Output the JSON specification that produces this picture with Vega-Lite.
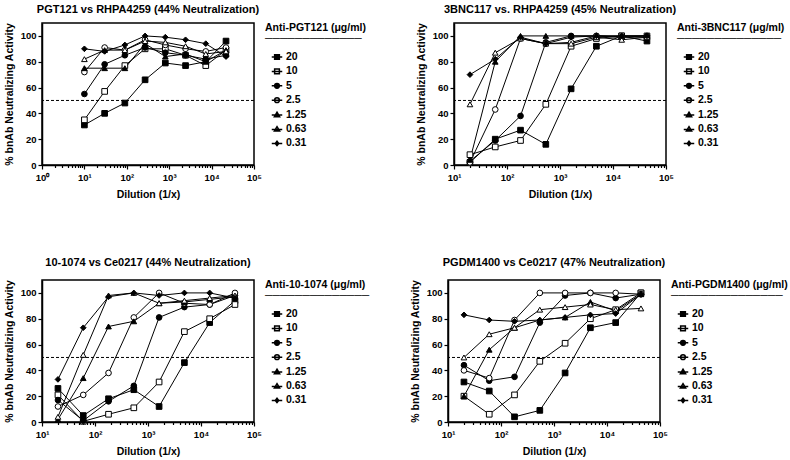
{
  "$schema": "https://vega.github.io/schema/vega-lite/v6.json",
  "padding": {"top": 2, "left": 3, "right": 2, "bottom": 1},
  "background": "white",
  "config": {
    "font": "Liberation Sans",
    "view": {"stroke": "black", "strokeWidth": 1.5},
    "axis": {"domainColor": "black", "domainWidth": 1.5, "tickColor": "black", "tickWidth": 1.2, "labelColor": "black", "labelFont": "Liberation Sans", "labelFontWeight": "bold", "labelFontSize": 9.5, "titleColor": "black", "titleFont": "Liberation Sans", "titleFontWeight": "bold", "titleFontSize": 10.5, "grid": false},
    "title": {"font": "Liberation Sans", "fontSize": 11, "fontWeight": "bold", "color": "black", "anchor": "middle", "frame": "group"},
    "legend": {"titleFont": "Liberation Sans", "titleFontSize": 10.5, "titleFontWeight": "bold", "titleColor": "black", "labelFont": "Liberation Sans", "labelFontSize": 10.5, "labelFontWeight": "bold", "labelColor": "black", "offset": 11, "padding": 0, "symbolSize": 110, "rowPadding": 2.4, "titlePadding": 6.5, "titleLineHeight": 11, "symbolOffset": 6, "labelOffset": 3, "orient": "right"}
  },
  "datasets": {
    "A": [
      {"conc":"20","dil":10,"pct":31},{"conc":"20","dil":30,"pct":40},{"conc":"20","dil":90,"pct":48},{"conc":"20","dil":270,"pct":66},{"conc":"20","dil":810,"pct":79},{"conc":"20","dil":2430,"pct":77},{"conc":"20","dil":7290,"pct":80},{"conc":"20","dil":21870,"pct":96},
      {"conc":"10","dil":10,"pct":35},{"conc":"10","dil":30,"pct":57},{"conc":"10","dil":90,"pct":77},{"conc":"10","dil":270,"pct":90},{"conc":"10","dil":810,"pct":90},{"conc":"10","dil":2430,"pct":85},{"conc":"10","dil":7290,"pct":77},{"conc":"10","dil":21870,"pct":89},
      {"conc":"5","dil":10,"pct":55},{"conc":"5","dil":30,"pct":78},{"conc":"5","dil":90,"pct":85},{"conc":"5","dil":270,"pct":91},{"conc":"5","dil":810,"pct":87},{"conc":"5","dil":2430,"pct":85},{"conc":"5","dil":7290,"pct":82},{"conc":"5","dil":21870,"pct":85},
      {"conc":"2.5","dil":10,"pct":72},{"conc":"2.5","dil":30,"pct":91},{"conc":"2.5","dil":90,"pct":89},{"conc":"2.5","dil":270,"pct":97},{"conc":"2.5","dil":810,"pct":93},{"conc":"2.5","dil":2430,"pct":90},{"conc":"2.5","dil":7290,"pct":88},{"conc":"2.5","dil":21870,"pct":91},
      {"conc":"1.25","dil":10,"pct":75},{"conc":"1.25","dil":30,"pct":75},{"conc":"1.25","dil":90,"pct":75},{"conc":"1.25","dil":270,"pct":94},{"conc":"1.25","dil":810,"pct":84},{"conc":"1.25","dil":2430,"pct":86},{"conc":"1.25","dil":7290,"pct":80},{"conc":"1.25","dil":21870,"pct":89},
      {"conc":"0.63","dil":10,"pct":82},{"conc":"0.63","dil":30,"pct":89},{"conc":"0.63","dil":90,"pct":89},{"conc":"0.63","dil":270,"pct":96},{"conc":"0.63","dil":810,"pct":95},{"conc":"0.63","dil":2430,"pct":92},{"conc":"0.63","dil":7290,"pct":86},{"conc":"0.63","dil":21870,"pct":88},
      {"conc":"0.31","dil":10,"pct":90},{"conc":"0.31","dil":30,"pct":88},{"conc":"0.31","dil":90,"pct":93},{"conc":"0.31","dil":270,"pct":100},{"conc":"0.31","dil":810,"pct":99},{"conc":"0.31","dil":2430,"pct":97},{"conc":"0.31","dil":7290,"pct":94},{"conc":"0.31","dil":21870,"pct":84}
    ],
    "B": [
      {"conc":"20","dil":20,"pct":2},{"conc":"20","dil":60,"pct":20},{"conc":"20","dil":180,"pct":27},{"conc":"20","dil":540,"pct":16},{"conc":"20","dil":1620,"pct":59},{"conc":"20","dil":4860,"pct":92},{"conc":"20","dil":14580,"pct":100},{"conc":"20","dil":43740,"pct":96},
      {"conc":"10","dil":20,"pct":8},{"conc":"10","dil":60,"pct":14},{"conc":"10","dil":180,"pct":19},{"conc":"10","dil":540,"pct":47},{"conc":"10","dil":1620,"pct":92},{"conc":"10","dil":4860,"pct":98},{"conc":"10","dil":14580,"pct":100},{"conc":"10","dil":43740,"pct":100},
      {"conc":"5","dil":20,"pct":3},{"conc":"5","dil":60,"pct":19},{"conc":"5","dil":180,"pct":38},{"conc":"5","dil":540,"pct":95},{"conc":"5","dil":1620,"pct":100},{"conc":"5","dil":4860,"pct":100},{"conc":"5","dil":14580,"pct":99},{"conc":"5","dil":43740,"pct":99},
      {"conc":"2.5","dil":20,"pct":2},{"conc":"2.5","dil":60,"pct":43},{"conc":"2.5","dil":180,"pct":98},{"conc":"2.5","dil":540,"pct":94},{"conc":"2.5","dil":1620,"pct":95},{"conc":"2.5","dil":4860,"pct":100},{"conc":"2.5","dil":14580,"pct":99},{"conc":"2.5","dil":43740,"pct":100},
      {"conc":"1.25","dil":20,"pct":4},{"conc":"1.25","dil":60,"pct":80},{"conc":"1.25","dil":180,"pct":100},{"conc":"1.25","dil":540,"pct":100},{"conc":"1.25","dil":1620,"pct":100},{"conc":"1.25","dil":4860,"pct":100},{"conc":"1.25","dil":14580,"pct":100},{"conc":"1.25","dil":43740,"pct":100},
      {"conc":"0.63","dil":20,"pct":47},{"conc":"0.63","dil":60,"pct":87},{"conc":"0.63","dil":180,"pct":98},{"conc":"0.63","dil":540,"pct":94},{"conc":"0.63","dil":1620,"pct":94},{"conc":"0.63","dil":4860,"pct":99},{"conc":"0.63","dil":14580,"pct":97},{"conc":"0.63","dil":43740,"pct":99},
      {"conc":"0.31","dil":20,"pct":70},{"conc":"0.31","dil":60,"pct":82},{"conc":"0.31","dil":180,"pct":99},{"conc":"0.31","dil":540,"pct":94},{"conc":"0.31","dil":1620,"pct":99},{"conc":"0.31","dil":4860,"pct":100},{"conc":"0.31","dil":14580,"pct":100},{"conc":"0.31","dil":43740,"pct":100}
    ],
    "C": [
      {"conc":"20","dil":20,"pct":26},{"conc":"20","dil":60,"pct":5},{"conc":"20","dil":180,"pct":18},{"conc":"20","dil":540,"pct":25},{"conc":"20","dil":1620,"pct":12},{"conc":"20","dil":4860,"pct":46},{"conc":"20","dil":14580,"pct":77},{"conc":"20","dil":43740,"pct":94},
      {"conc":"10","dil":20,"pct":21},{"conc":"10","dil":60,"pct":0.5},{"conc":"10","dil":180,"pct":6},{"conc":"10","dil":540,"pct":11},{"conc":"10","dil":1620,"pct":31},{"conc":"10","dil":4860,"pct":70},{"conc":"10","dil":14580,"pct":80},{"conc":"10","dil":43740,"pct":91},
      {"conc":"5","dil":20,"pct":17},{"conc":"5","dil":60,"pct":1},{"conc":"5","dil":180,"pct":16},{"conc":"5","dil":540,"pct":28},{"conc":"5","dil":1620,"pct":81},{"conc":"5","dil":4860,"pct":89},{"conc":"5","dil":14580,"pct":91},{"conc":"5","dil":43740,"pct":98},
      {"conc":"2.5","dil":20,"pct":12},{"conc":"2.5","dil":60,"pct":21},{"conc":"2.5","dil":180,"pct":38},{"conc":"2.5","dil":540,"pct":81},{"conc":"2.5","dil":1620,"pct":100},{"conc":"2.5","dil":4860,"pct":92},{"conc":"2.5","dil":14580,"pct":91},{"conc":"2.5","dil":43740,"pct":100},
      {"conc":"1.25","dil":20,"pct":2},{"conc":"1.25","dil":60,"pct":34},{"conc":"1.25","dil":180,"pct":74},{"conc":"1.25","dil":540,"pct":78},{"conc":"1.25","dil":1620,"pct":92},{"conc":"1.25","dil":4860,"pct":93},{"conc":"1.25","dil":14580,"pct":95},{"conc":"1.25","dil":43740,"pct":97},
      {"conc":"0.63","dil":20,"pct":4},{"conc":"0.63","dil":60,"pct":52},{"conc":"0.63","dil":180,"pct":98},{"conc":"0.63","dil":540,"pct":100},{"conc":"0.63","dil":1620,"pct":92},{"conc":"0.63","dil":4860,"pct":94},{"conc":"0.63","dil":14580,"pct":96},{"conc":"0.63","dil":43740,"pct":98},
      {"conc":"0.31","dil":20,"pct":33},{"conc":"0.31","dil":60,"pct":73},{"conc":"0.31","dil":180,"pct":97},{"conc":"0.31","dil":540,"pct":100},{"conc":"0.31","dil":1620,"pct":98},{"conc":"0.31","dil":4860,"pct":100},{"conc":"0.31","dil":14580,"pct":100},{"conc":"0.31","dil":43740,"pct":96}
    ],
    "D": [
      {"conc":"20","dil":20,"pct":31},{"conc":"20","dil":60,"pct":24},{"conc":"20","dil":180,"pct":4},{"conc":"20","dil":540,"pct":9},{"conc":"20","dil":1620,"pct":38},{"conc":"20","dil":4860,"pct":73},{"conc":"20","dil":14580,"pct":77},{"conc":"20","dil":43740,"pct":100},
      {"conc":"10","dil":20,"pct":20},{"conc":"10","dil":60,"pct":6},{"conc":"10","dil":180,"pct":21},{"conc":"10","dil":540,"pct":47},{"conc":"10","dil":1620,"pct":61},{"conc":"10","dil":4860,"pct":80},{"conc":"10","dil":14580,"pct":87},{"conc":"10","dil":43740,"pct":100},
      {"conc":"5","dil":20,"pct":44},{"conc":"5","dil":60,"pct":32},{"conc":"5","dil":180,"pct":35},{"conc":"5","dil":540,"pct":77},{"conc":"5","dil":1620,"pct":98},{"conc":"5","dil":4860,"pct":100},{"conc":"5","dil":14580,"pct":96},{"conc":"5","dil":43740,"pct":99},
      {"conc":"2.5","dil":20,"pct":40},{"conc":"2.5","dil":60,"pct":34},{"conc":"2.5","dil":180,"pct":79},{"conc":"2.5","dil":540,"pct":100},{"conc":"2.5","dil":1620,"pct":100},{"conc":"2.5","dil":4860,"pct":100},{"conc":"2.5","dil":14580,"pct":100},{"conc":"2.5","dil":43740,"pct":99},
      {"conc":"1.25","dil":20,"pct":20},{"conc":"1.25","dil":60,"pct":56},{"conc":"1.25","dil":180,"pct":73},{"conc":"1.25","dil":540,"pct":79},{"conc":"1.25","dil":1620,"pct":81},{"conc":"1.25","dil":4860,"pct":93},{"conc":"1.25","dil":14580,"pct":86},{"conc":"1.25","dil":43740,"pct":99},
      {"conc":"0.63","dil":20,"pct":50},{"conc":"0.63","dil":60,"pct":68},{"conc":"0.63","dil":180,"pct":73},{"conc":"0.63","dil":540,"pct":87},{"conc":"0.63","dil":1620,"pct":89},{"conc":"0.63","dil":4860,"pct":91},{"conc":"0.63","dil":14580,"pct":87},{"conc":"0.63","dil":43740,"pct":88},
      {"conc":"0.31","dil":20,"pct":83},{"conc":"0.31","dil":60,"pct":79},{"conc":"0.31","dil":180,"pct":78},{"conc":"0.31","dil":540,"pct":79},{"conc":"0.31","dil":1620,"pct":81},{"conc":"0.31","dil":4860,"pct":83},{"conc":"0.31","dil":14580,"pct":84},{"conc":"0.31","dil":43740,"pct":99}
    ]
  },
  "spacing": 54,
  "resolve": {"scale": {"x": "independent", "y": "independent", "shape": "independent", "fill": "independent"}, "legend": {"shape": "independent", "fill": "independent"}, "axis": {"x": "independent", "y": "independent"}},
  "vconcat": [
    {
      "spacing": 48,
      "resolve": {"scale": {"x": "independent", "y": "independent", "shape": "independent", "fill": "independent"}, "legend": {"shape": "independent", "fill": "independent"}, "axis": {"x": "independent", "y": "independent"}},
      "hconcat": [
        {
          "width": 212, "height": 142,
          "title": {"text": "PGT121 vs RHPA4259 (44% Neutralization)", "offset": 8},
          "resolve": {"axis": {"x": "independent"}, "scale": {"shape": "independent", "fill": "independent"}, "legend": {"shape": "independent", "fill": "independent"}},
          "layer": [
            {"data": {"values": [{"v": 50}]},
             "mark": {"type": "rule", "color": "black", "strokeWidth": 1, "strokeDash": [3, 2]},
             "encoding": {"y": {"field": "v", "type": "quantitative", "scale": {"domain": [0, 110], "nice": false}, "axis": {"title": "% bnAb Neutralizing Activity", "values": [0, 20, 40, 60, 80, 100], "tickSize": 4, "labelPadding": 2, "titlePadding": 6}}}},
            {"data": {"name": "A"},
             "mark": {"type": "line", "color": "black", "strokeWidth": 1},
             "encoding": {
               "x": {"field": "dil", "type": "quantitative", "scale": {"type": "log", "domain": [1, 100000], "nice": false}, "axis": {"orient": "bottom", "title": null, "labels": false, "domain": false, "tickSize": 2.5, "values": [2,3,4,5,6,7,8,9,20,30,40,50,60,70,80,90,200,300,400,500,600,700,800,900,2000,3000,4000,5000,6000,7000,8000,9000,20000,30000,40000,50000,60000,70000,80000,90000]}},
               "y": {"field": "pct", "type": "quantitative", "scale": {"domain": [0, 110], "nice": false}, "axis": {"title": "% bnAb Neutralizing Activity", "values": [0, 20, 40, 60, 80, 100], "tickSize": 4, "labelPadding": 2, "titlePadding": 6}},
               "detail": {"field": "conc", "type": "nominal"}}},
            {"data": {"name": "A"},
             "mark": {"type": "point", "filled": true, "stroke": "black", "strokeWidth": 1, "opacity": 1, "size": 32},
             "encoding": {
               "x": {"field": "dil", "type": "quantitative", "scale": {"type": "log", "domain": [1, 100000], "nice": false}, "axis": {"orient": "bottom", "title": "Dilution (1/x)", "values": [1, 10, 100, 1000, 10000, 100000], "labelExpr": "'10' + ['⁰','¹','²','³','⁴','⁵'][round(log(datum.value)/LN10)]", "tickSize": 4, "labelPadding": 3, "titlePadding": 8, "labelFlush": false, "labelOverlap": false}},
               "y": {"field": "pct", "type": "quantitative", "scale": {"domain": [0, 110], "nice": false}, "axis": {"title": "% bnAb Neutralizing Activity", "values": [0, 20, 40, 60, 80, 100], "tickSize": 4, "labelPadding": 2, "titlePadding": 6}},
               "shape": {"field": "conc", "type": "nominal", "scale": {"domain": ["20","10","5","2.5","1.25","0.63","0.31"], "range": ["square","square","circle","circle","triangle-up","triangle-up","diamond"]}, "legend": null},
               "fill": {"field": "conc", "type": "nominal", "scale": {"domain": ["20","10","5","2.5","1.25","0.63","0.31"], "range": ["black","white","black","white","black","white","black"]}, "legend": null}}},
            {"data": {"name": "A"},
             "transform": [{"filter": "datum.dil < 0"}],
             "mark": {"type": "point", "filled": true, "stroke": "black", "strokeWidth": 1, "opacity": 1, "size": 110},
             "encoding": {
               "shape": {"field": "conc", "type": "nominal", "scale": {"domain": ["20","10","5","2.5","1.25","0.63","0.31"], "range": ["M-1,0H1M-0.45,-0.45H0.45V0.45H-0.45Z","M-1,0H1M-0.45,-0.45H0.45V0.45H-0.45Z","M-1,0H1M0.45,0A0.45,0.45,0,1,1,-0.45,0A0.45,0.45,0,1,1,0.45,0Z","M-1,0H1M0.45,0A0.45,0.45,0,1,1,-0.45,0A0.45,0.45,0,1,1,0.45,0Z","M-1,0.1H1M0,-0.45L0.5,0.4H-0.5Z","M-1,0.1H1M0,-0.45L0.5,0.4H-0.5Z","M-1,0H1M0,-0.4L0.32,0L0,0.4L-0.32,0Z"]},
                 "legend": {"title": ["Anti-PGT121 (μg/ml)", "─────────────"]}},
               "fill": {"field": "conc", "type": "nominal", "scale": {"domain": ["20","10","5","2.5","1.25","0.63","0.31"], "range": ["black","white","black","white","black","white","black"]},
                 "legend": {"title": ["Anti-PGT121 (μg/ml)", "─────────────"]}}}}
          ]
        },
        {
          "width": 212, "height": 142,
          "title": {"text": "3BNC117 vs.  RHPA4259 (45% Neutralization)", "offset": 8},
          "resolve": {"axis": {"x": "independent"}, "scale": {"shape": "independent", "fill": "independent"}, "legend": {"shape": "independent", "fill": "independent"}},
          "layer": [
            {"data": {"values": [{"v": 50}]},
             "mark": {"type": "rule", "color": "black", "strokeWidth": 1, "strokeDash": [3, 2]},
             "encoding": {"y": {"field": "v", "type": "quantitative", "scale": {"domain": [0, 110], "nice": false}, "axis": {"title": "% bnAb Neutralizing Activity", "values": [0, 20, 40, 60, 80, 100], "tickSize": 4, "labelPadding": 2, "titlePadding": 6}}}},
            {"data": {"name": "B"},
             "mark": {"type": "line", "color": "black", "strokeWidth": 1},
             "encoding": {
               "x": {"field": "dil", "type": "quantitative", "scale": {"type": "log", "domain": [10, 100000], "nice": false}, "axis": {"orient": "bottom", "title": null, "labels": false, "domain": false, "tickSize": 2.5, "values": [20,30,40,50,60,70,80,90,200,300,400,500,600,700,800,900,2000,3000,4000,5000,6000,7000,8000,9000,20000,30000,40000,50000,60000,70000,80000,90000]}},
               "y": {"field": "pct", "type": "quantitative", "scale": {"domain": [0, 110], "nice": false}, "axis": {"title": "% bnAb Neutralizing Activity", "values": [0, 20, 40, 60, 80, 100], "tickSize": 4, "labelPadding": 2, "titlePadding": 6}},
               "detail": {"field": "conc", "type": "nominal"}}},
            {"data": {"name": "B"},
             "mark": {"type": "point", "filled": true, "stroke": "black", "strokeWidth": 1, "opacity": 1, "size": 32},
             "encoding": {
               "x": {"field": "dil", "type": "quantitative", "scale": {"type": "log", "domain": [10, 100000], "nice": false}, "axis": {"orient": "bottom", "title": "Dilution (1/x)", "values": [10, 100, 1000, 10000, 100000], "labelExpr": "'10' + ['⁰','¹','²','³','⁴','⁵'][round(log(datum.value)/LN10)]", "tickSize": 4, "labelPadding": 3, "titlePadding": 8, "labelFlush": false, "labelOverlap": false}},
               "y": {"field": "pct", "type": "quantitative", "scale": {"domain": [0, 110], "nice": false}, "axis": {"title": "% bnAb Neutralizing Activity", "values": [0, 20, 40, 60, 80, 100], "tickSize": 4, "labelPadding": 2, "titlePadding": 6}},
               "shape": {"field": "conc", "type": "nominal", "scale": {"domain": ["20","10","5","2.5","1.25","0.63","0.31"], "range": ["square","square","circle","circle","triangle-up","triangle-up","diamond"]}, "legend": null},
               "fill": {"field": "conc", "type": "nominal", "scale": {"domain": ["20","10","5","2.5","1.25","0.63","0.31"], "range": ["black","white","black","white","black","white","black"]}, "legend": null}}},
            {"data": {"name": "B"},
             "transform": [{"filter": "datum.dil < 0"}],
             "mark": {"type": "point", "filled": true, "stroke": "black", "strokeWidth": 1, "opacity": 1, "size": 110},
             "encoding": {
               "shape": {"field": "conc", "type": "nominal", "scale": {"domain": ["20","10","5","2.5","1.25","0.63","0.31"], "range": ["M-1,0H1M-0.45,-0.45H0.45V0.45H-0.45Z","M-1,0H1M-0.45,-0.45H0.45V0.45H-0.45Z","M-1,0H1M0.45,0A0.45,0.45,0,1,1,-0.45,0A0.45,0.45,0,1,1,0.45,0Z","M-1,0H1M0.45,0A0.45,0.45,0,1,1,-0.45,0A0.45,0.45,0,1,1,0.45,0Z","M-1,0.1H1M0,-0.45L0.5,0.4H-0.5Z","M-1,0.1H1M0,-0.45L0.5,0.4H-0.5Z","M-1,0H1M0,-0.4L0.32,0L0,0.4L-0.32,0Z"]},
                 "legend": {"title": ["Anti-3BNC117 (μg/ml)", "──────────────"]}},
               "fill": {"field": "conc", "type": "nominal", "scale": {"domain": ["20","10","5","2.5","1.25","0.63","0.31"], "range": ["black","white","black","white","black","white","black"]},
                 "legend": {"title": ["Anti-3BNC117 (μg/ml)", "──────────────"]}}}}
          ]
        }
      ]
    },
    {
      "spacing": 38,
      "resolve": {"scale": {"x": "independent", "y": "independent", "shape": "independent", "fill": "independent"}, "legend": {"shape": "independent", "fill": "independent"}, "axis": {"x": "independent", "y": "independent"}},
      "hconcat": [
        {
          "width": 212, "height": 142,
          "title": {"text": "10-1074 vs Ce0217 (44% Neutralization)", "offset": 12},
          "resolve": {"axis": {"x": "independent"}, "scale": {"shape": "independent", "fill": "independent"}, "legend": {"shape": "independent", "fill": "independent"}},
          "layer": [
            {"data": {"values": [{"v": 50}]},
             "mark": {"type": "rule", "color": "black", "strokeWidth": 1, "strokeDash": [3, 2]},
             "encoding": {"y": {"field": "v", "type": "quantitative", "scale": {"domain": [0, 110], "nice": false}, "axis": {"title": "% bnAb Neutralizing Activity", "values": [0, 20, 40, 60, 80, 100], "tickSize": 4, "labelPadding": 2, "titlePadding": 6}}}},
            {"data": {"name": "C"},
             "mark": {"type": "line", "color": "black", "strokeWidth": 1},
             "encoding": {
               "x": {"field": "dil", "type": "quantitative", "scale": {"type": "log", "domain": [10, 100000], "nice": false}, "axis": {"orient": "bottom", "title": null, "labels": false, "domain": false, "tickSize": 2.5, "values": [20,30,40,50,60,70,80,90,200,300,400,500,600,700,800,900,2000,3000,4000,5000,6000,7000,8000,9000,20000,30000,40000,50000,60000,70000,80000,90000]}},
               "y": {"field": "pct", "type": "quantitative", "scale": {"domain": [0, 110], "nice": false}, "axis": {"title": "% bnAb Neutralizing Activity", "values": [0, 20, 40, 60, 80, 100], "tickSize": 4, "labelPadding": 2, "titlePadding": 6}},
               "detail": {"field": "conc", "type": "nominal"}}},
            {"data": {"name": "C"},
             "mark": {"type": "point", "filled": true, "stroke": "black", "strokeWidth": 1, "opacity": 1, "size": 32},
             "encoding": {
               "x": {"field": "dil", "type": "quantitative", "scale": {"type": "log", "domain": [10, 100000], "nice": false}, "axis": {"orient": "bottom", "title": "Dilution (1/x)", "values": [10, 100, 1000, 10000, 100000], "labelExpr": "'10' + ['⁰','¹','²','³','⁴','⁵'][round(log(datum.value)/LN10)]", "tickSize": 4, "labelPadding": 3, "titlePadding": 8, "labelFlush": false, "labelOverlap": false}},
               "y": {"field": "pct", "type": "quantitative", "scale": {"domain": [0, 110], "nice": false}, "axis": {"title": "% bnAb Neutralizing Activity", "values": [0, 20, 40, 60, 80, 100], "tickSize": 4, "labelPadding": 2, "titlePadding": 6}},
               "shape": {"field": "conc", "type": "nominal", "scale": {"domain": ["20","10","5","2.5","1.25","0.63","0.31"], "range": ["square","square","circle","circle","triangle-up","triangle-up","diamond"]}, "legend": null},
               "fill": {"field": "conc", "type": "nominal", "scale": {"domain": ["20","10","5","2.5","1.25","0.63","0.31"], "range": ["black","white","black","white","black","white","black"]}, "legend": null}}},
            {"data": {"name": "C"},
             "transform": [{"filter": "datum.dil < 0"}],
             "mark": {"type": "point", "filled": true, "stroke": "black", "strokeWidth": 1, "opacity": 1, "size": 110},
             "encoding": {
               "shape": {"field": "conc", "type": "nominal", "scale": {"domain": ["20","10","5","2.5","1.25","0.63","0.31"], "range": ["M-1,0H1M-0.45,-0.45H0.45V0.45H-0.45Z","M-1,0H1M-0.45,-0.45H0.45V0.45H-0.45Z","M-1,0H1M0.45,0A0.45,0.45,0,1,1,-0.45,0A0.45,0.45,0,1,1,0.45,0Z","M-1,0H1M0.45,0A0.45,0.45,0,1,1,-0.45,0A0.45,0.45,0,1,1,0.45,0Z","M-1,0.1H1M0,-0.45L0.5,0.4H-0.5Z","M-1,0.1H1M0,-0.45L0.5,0.4H-0.5Z","M-1,0H1M0,-0.4L0.32,0L0,0.4L-0.32,0Z"]},
                 "legend": {"title": ["Anti-10-1074 (μg/ml)", "──────────────"]}},
               "fill": {"field": "conc", "type": "nominal", "scale": {"domain": ["20","10","5","2.5","1.25","0.63","0.31"], "range": ["black","white","black","white","black","white","black"]},
                 "legend": {"title": ["Anti-10-1074 (μg/ml)", "──────────────"]}}}}
          ]
        },
        {
          "width": 212, "height": 142,
          "title": {"text": "PGDM1400 vs Ce0217 (47% Neutralization)", "offset": 12},
          "resolve": {"axis": {"x": "independent"}, "scale": {"shape": "independent", "fill": "independent"}, "legend": {"shape": "independent", "fill": "independent"}},
          "layer": [
            {"data": {"values": [{"v": 50}]},
             "mark": {"type": "rule", "color": "black", "strokeWidth": 1, "strokeDash": [3, 2]},
             "encoding": {"y": {"field": "v", "type": "quantitative", "scale": {"domain": [0, 110], "nice": false}, "axis": {"title": "% bnAb Neutralizing Activity", "values": [0, 20, 40, 60, 80, 100], "tickSize": 4, "labelPadding": 2, "titlePadding": 6}}}},
            {"data": {"name": "D"},
             "mark": {"type": "line", "color": "black", "strokeWidth": 1},
             "encoding": {
               "x": {"field": "dil", "type": "quantitative", "scale": {"type": "log", "domain": [10, 100000], "nice": false}, "axis": {"orient": "bottom", "title": null, "labels": false, "domain": false, "tickSize": 2.5, "values": [20,30,40,50,60,70,80,90,200,300,400,500,600,700,800,900,2000,3000,4000,5000,6000,7000,8000,9000,20000,30000,40000,50000,60000,70000,80000,90000]}},
               "y": {"field": "pct", "type": "quantitative", "scale": {"domain": [0, 110], "nice": false}, "axis": {"title": "% bnAb Neutralizing Activity", "values": [0, 20, 40, 60, 80, 100], "tickSize": 4, "labelPadding": 2, "titlePadding": 6}},
               "detail": {"field": "conc", "type": "nominal"}}},
            {"data": {"name": "D"},
             "mark": {"type": "point", "filled": true, "stroke": "black", "strokeWidth": 1, "opacity": 1, "size": 32},
             "encoding": {
               "x": {"field": "dil", "type": "quantitative", "scale": {"type": "log", "domain": [10, 100000], "nice": false}, "axis": {"orient": "bottom", "title": "Dilution (1/x)", "values": [10, 100, 1000, 10000, 100000], "labelExpr": "'10' + ['⁰','¹','²','³','⁴','⁵'][round(log(datum.value)/LN10)]", "tickSize": 4, "labelPadding": 3, "titlePadding": 8, "labelFlush": false, "labelOverlap": false}},
               "y": {"field": "pct", "type": "quantitative", "scale": {"domain": [0, 110], "nice": false}, "axis": {"title": "% bnAb Neutralizing Activity", "values": [0, 20, 40, 60, 80, 100], "tickSize": 4, "labelPadding": 2, "titlePadding": 6}},
               "shape": {"field": "conc", "type": "nominal", "scale": {"domain": ["20","10","5","2.5","1.25","0.63","0.31"], "range": ["square","square","circle","circle","triangle-up","triangle-up","diamond"]}, "legend": null},
               "fill": {"field": "conc", "type": "nominal", "scale": {"domain": ["20","10","5","2.5","1.25","0.63","0.31"], "range": ["black","white","black","white","black","white","black"]}, "legend": null}}},
            {"data": {"name": "D"},
             "transform": [{"filter": "datum.dil < 0"}],
             "mark": {"type": "point", "filled": true, "stroke": "black", "strokeWidth": 1, "opacity": 1, "size": 110},
             "encoding": {
               "shape": {"field": "conc", "type": "nominal", "scale": {"domain": ["20","10","5","2.5","1.25","0.63","0.31"], "range": ["M-1,0H1M-0.45,-0.45H0.45V0.45H-0.45Z","M-1,0H1M-0.45,-0.45H0.45V0.45H-0.45Z","M-1,0H1M0.45,0A0.45,0.45,0,1,1,-0.45,0A0.45,0.45,0,1,1,0.45,0Z","M-1,0H1M0.45,0A0.45,0.45,0,1,1,-0.45,0A0.45,0.45,0,1,1,0.45,0Z","M-1,0.1H1M0,-0.45L0.5,0.4H-0.5Z","M-1,0.1H1M0,-0.45L0.5,0.4H-0.5Z","M-1,0H1M0,-0.4L0.32,0L0,0.4L-0.32,0Z"]},
                 "legend": {"title": ["Anti-PGDM1400 (μg/ml)", "───────────────"]}},
               "fill": {"field": "conc", "type": "nominal", "scale": {"domain": ["20","10","5","2.5","1.25","0.63","0.31"], "range": ["black","white","black","white","black","white","black"]},
                 "legend": {"title": ["Anti-PGDM1400 (μg/ml)", "───────────────"]}}}}
          ]
        }
      ]
    }
  ]
}
